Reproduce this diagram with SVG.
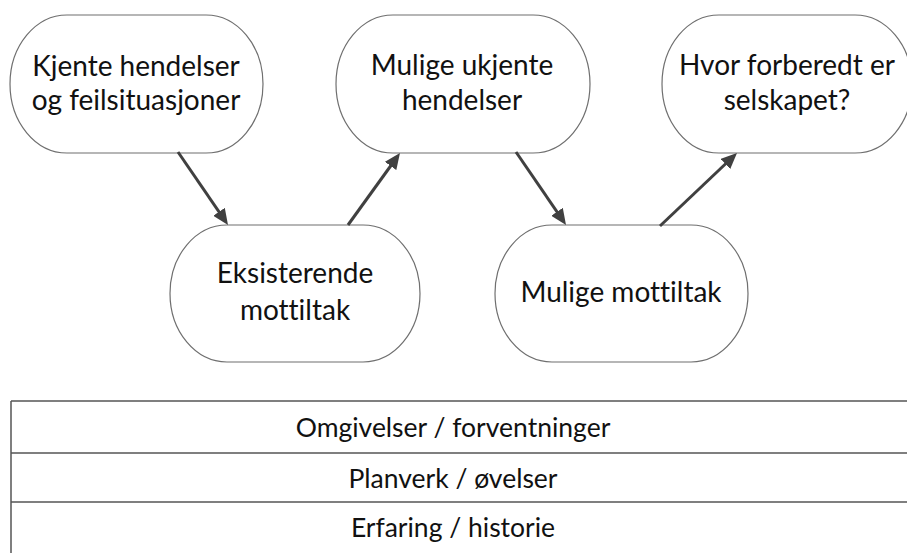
<svg xmlns="http://www.w3.org/2000/svg" width="907" height="553" viewBox="0 0 907 553">
  <style>
    .node { fill: #ffffff; stroke: #6f6f6f; stroke-width: 1.2; }
    .label { font-family: "Lato", "Liberation Sans", sans-serif; font-size: 28px; fill: #111111; text-anchor: middle; font-variant-ligatures: none; font-feature-settings: "liga" 0; }
    .layer { font-size: 26.5px; }
    .edge { stroke: #404040; stroke-width: 3; fill: none; marker-end: url(#head); }
    .rule { stroke: #555555; stroke-width: 1.5; fill: none; }
  </style>
  <defs>
    <marker id="head" markerUnits="userSpaceOnUse" markerWidth="16" markerHeight="14" refX="8" refY="7" orient="auto">
      <path d="M0,0 L16,7 L0,14 z" fill="#404040"/>
    </marker>
  </defs>

  <!-- flow nodes -->
  <g id="kjente">
    <rect class="node" x="10" y="15" width="253" height="138" rx="57" ry="69"/>
    <text class="label" x="136" y="76">Kjente hendelser</text>
    <text class="label" x="136" y="110">og feilsituasjoner</text>
  </g>
  <g id="eksisterende">
    <rect class="node" x="170" y="225" width="250" height="137" rx="57" ry="68.5"/>
    <text class="label" x="295" y="283">Eksisterende</text>
    <text class="label" x="295" y="320">mottiltak</text>
  </g>
  <g id="ukjente">
    <rect class="node" x="336" y="15" width="254" height="138" rx="57" ry="69"/>
    <text class="label" x="462" y="75">Mulige ukjente</text>
    <text class="label" x="462" y="110">hendelser</text>
  </g>
  <g id="mulige-mottiltak">
    <rect class="node" x="495" y="225" width="253" height="137" rx="57" ry="68.5"/>
    <text class="label" x="621" y="302">Mulige mottiltak</text>
  </g>
  <g id="forberedt">
    <rect class="node" x="662" y="15" width="250" height="138" rx="57" ry="69"/>
    <text class="label" x="787" y="75">Hvor forberedt er</text>
    <text class="label" x="787" y="110">selskapet?</text>
  </g>

  <!-- connectors -->
  <g id="connectors">
    <line class="edge" x1="178" y1="152" x2="223.5" y2="218.4"/>
    <line class="edge" x1="348" y1="225" x2="395.3" y2="159.5"/>
    <line class="edge" x1="516" y1="152" x2="561.5" y2="218.4"/>
    <line class="edge" x1="660" y1="226" x2="731.2" y2="158.5"/>
  </g>

  <!-- foundation layers -->
  <g id="layers">
    <line class="rule" x1="11" y1="401" x2="907" y2="401"/>
    <line class="rule" x1="11" y1="453" x2="907" y2="453"/>
    <line class="rule" x1="11" y1="502" x2="907" y2="502"/>
    <line class="rule" x1="11" y1="401" x2="11" y2="553"/>
    <text class="label layer" x="453" y="437">Omgivelser / forventninger</text>
    <text class="label layer" x="453" y="488">Planverk / øvelser</text>
    <text class="label layer" x="453" y="537">Erfaring / historie</text>
  </g>
</svg>
